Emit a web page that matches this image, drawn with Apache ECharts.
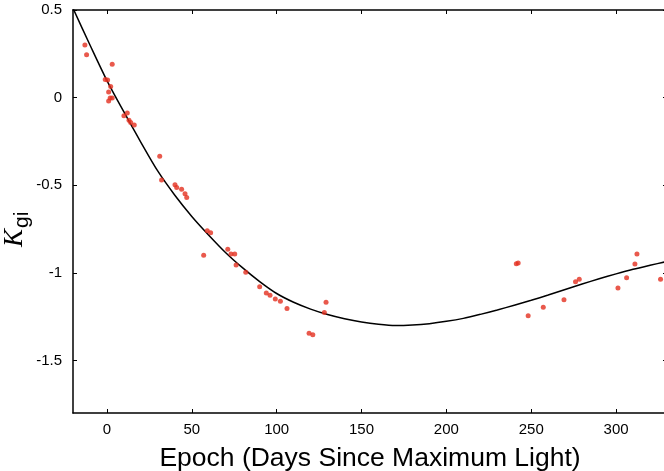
<!DOCTYPE html>
<html>
<head>
<meta charset="utf-8">
<script src="https://cdn.jsdelivr.net/npm/echarts@6/dist/echarts.min.js"></script>
<style>html,body{margin:0;padding:0;background:#fff}#c{width:664px;height:471px}</style>
</head>
<body>
<div id="c"></div>
<script>
// Observed data (epoch in days since maximum light, K_gi)
const epoch = [-13.0, -12.0, 3.1, -1.0, 0.4, 2.2, 1.0, 1.9, 3.1, 1.0, 12.0, 10.0, 13.0, 14.0, 16.1,
  31.1, 32.2, 40.1, 41.1, 44.0, 46.0, 47.0, 59.1, 61.1, 57.0, 71.2, 73.1, 75.3, 76.1, 81.8,
  90.0, 93.9, 96.1, 99.2, 102.2, 106.1, 119.1, 121.3, 128.1, 129.1,
  241.2, 242.3, 248.2, 257.1, 269.3, 276.1, 278.3, 301.1, 306.2, 311.1, 312.3, 326.2];
const kgi = [0.30, 0.245, 0.19, 0.104, 0.10, 0.064, 0.032, -0.002, -0.002, -0.019, -0.088, -0.103, -0.129, -0.142, -0.156,
  -0.334, -0.470, -0.498, -0.513, -0.523, -0.549, -0.570, -0.760, -0.771, -0.899, -0.866, -0.893, -0.893, -0.956, -0.996,
  -1.079, -1.115, -1.128, -1.149, -1.162, -1.204, -1.345, -1.353, -1.227, -1.168,
  -0.948, -0.944, -1.245, -1.197, -1.153, -1.051, -1.037, -1.087, -1.028, -0.950, -0.893, -1.037];

// Fitted curve
const curveX = [-20, -10, 0, 10, 20, 30, 40, 50, 60, 70, 80, 90, 100, 110, 120, 130, 140, 150, 160, 170,
  180, 190, 200, 210, 220, 230, 240, 250, 260, 270, 280, 290, 300, 310, 320, 330];
const curveY = [0.51, 0.30, 0.097, -0.082, -0.255, -0.42, -0.557, -0.678, -0.785, -0.885, -0.972, -1.05, -1.118, -1.168, -1.207, -1.238, -1.262, -1.281, -1.294, -1.301,
  -1.298, -1.29, -1.277, -1.26, -1.237, -1.212, -1.185, -1.157, -1.127, -1.095, -1.064, -1.034, -1.006, -0.98, -0.957, -0.935];

// Tick labels
const xTicks = [0, 50, 100, 150, 200, 250, 300];
const yTicks = [-1.5, -1, -0.5, 0, 0.5];

const font = '"Liberation Sans", Arial, Helvetica, sans-serif';
const axisLine = {show: true, onZero: false, lineStyle: {color: '#000', width: 1.5}};

function xAx(pos, showLabel) {
  return {
    type: 'value', position: pos, min: -20, max: 330,
    axisLine: axisLine,
    axisTick: {show: true, inside: true, length: 4, customValues: xTicks, lineStyle: {color: '#000', width: 1}},
    axisLabel: {show: showLabel, customValues: xTicks, color: '#000', fontSize: 15, fontFamily: font, margin: 9},
    splitLine: {show: false},
    name: showLabel ? 'Epoch (Days Since Maximum Light)' : '',
    nameLocation: 'middle', nameGap: 32,
    nameTextStyle: {color: '#000', fontSize: 26.5, fontFamily: font}
  };
}
function yAx(pos, showLabel) {
  return {
    type: 'value', position: pos, min: -1.8, max: 0.5,
    axisLine: axisLine,
    axisTick: {show: true, inside: true, length: 4, customValues: yTicks, lineStyle: {color: '#000', width: 1}},
    axisLabel: {show: showLabel, customValues: yTicks, color: '#000', fontSize: 15, fontFamily: font, margin: 11,
      formatter: v => String(v)},
    splitLine: {show: false}
  };
}

const chart = echarts.init(document.getElementById('c'), null, {renderer: 'canvas'});
chart.setOption({
  animation: false,
  backgroundColor: '#fff',
  grid: {left: 73, top: 10, right: -3, bottom: 58, outerBoundsMode: 'none'},
  xAxis: [xAx('bottom', true), xAx('top', false)],
  yAxis: [yAx('left', true), yAx('right', false)],
  graphic: [
    {type: 'text', x: 28, y: 247, rotation: Math.PI / 2,
      style: {text: 'K', font: 'italic 27px "Liberation Serif", "Times New Roman", serif', fill: '#000',
        textAlign: 'left', textVerticalAlign: 'bottom'}},
    {type: 'text', x: 33, y: 228, rotation: Math.PI / 2,
      style: {text: 'gi', font: '21px "Liberation Sans", Arial, sans-serif', fill: '#000',
        textAlign: 'left', textVerticalAlign: 'bottom'}}
  ],
  series: [
    {type: 'line', data: curveX.map((x, i) => [x, curveY[i]]), smooth: 0.3, symbol: 'none',
      lineStyle: {color: '#000', width: 1.5}, clip: true, z: 2},
    {type: 'scatter', data: epoch.map((x, i) => [x, kgi[i]]), symbol: 'circle', symbolSize: 5,
      itemStyle: {color: '#e4301f'}, z: 3}
  ]
});
</script>
</body>
</html>
